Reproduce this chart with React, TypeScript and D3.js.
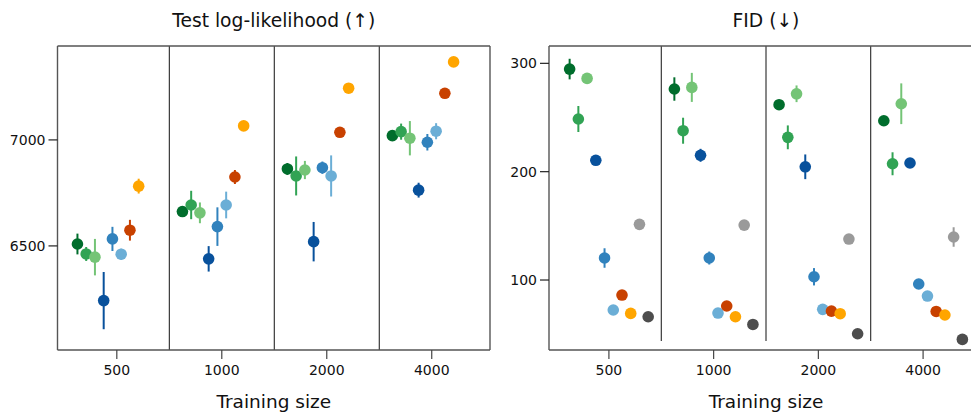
import React from "react";
import * as d3 from "d3";

const trainingSizes = ["500", "1000", "2000", "4000"];
const seriesColors = [
  "#006d2c", "#31a354", "#74c476",
  "#08519c", "#3182bd", "#6baed6",
  "#c84100", "#ffa500", "#9a9a9a", "#4d4d4d",
];

// Test log-likelihood (8 series) — mean and error per training size
const llMean = [
  [6509, 6662, 6863, 7020],
  [6462, 6693, 6830, 7039],
  [6447, 6656, 6858, 7008],
  [6242, 6439, 6520, 6763],
  [6533, 6591, 6869, 6989],
  [6461, 6693, 6830, 7041],
  [6574, 6825, 7036, 7220],
  [6782, 7066, 7244, 7368],
];
const llErr = [
  [49, 24, 28, 18],
  [33, 67, 92, 38],
  [86, 49, 43, 81],
  [135, 60, 93, 35],
  [57, 91, 29, 39],
  [26, 63, 97, 38],
  [49, 33, 15, 12],
  [35, 12, 12, 12],
];

// FID (10 series)
const fidMean = [
  [294.7, 276.3, 261.8, 247.0],
  [248.6, 237.8, 231.7, 207.3],
  [286.1, 277.8, 271.9, 262.7],
  [210.5, 215.1, 204.5, 208.0],
  [120.3, 120.3, 103.0, 96.3],
  [72.3, 69.5, 72.9, 85.2],
  [86.1, 76.0, 71.3, 71.0],
  [69.2, 66.1, 68.9, 67.7],
  [151.4, 150.7, 137.8, 139.7],
  [66.1, 59.0, 50.4, 45.2],
];
const fidErr = [
  [9.5, 10.8, 4.5, 3],
  [12, 12, 11, 10.6],
  [5, 13.4, 7.7, 18.8],
  [3, 6, 11.4, 4],
  [9, 6, 8, 3],
  [2, 2, 2, 2],
  [2, 2, 2, 2],
  [2, 2, 2, 2],
  [2, 2, 2, 9],
  [2, 2, 2, 2],
];

const llTicks = [6500, 7000];
const fidTicks = [100, 200, 300];

const FONT = "DejaVu Sans";

type PanelProps = {
  title: string;
  x0: number;
  x1: number;
  xDomain: [number, number];
  yDomain: [number, number];
  ticks: number[];
  means: number[][];
  errs: number[][];
  rightBorder: boolean;
  dividerBottom: number | null;
};

const TOP = 46;
const BOTTOM = 350;

function Panel(p: PanelProps) {
  const x = d3.scaleLinear().domain(p.xDomain).range([p.x0, p.x1]);
  const y = d3.scaleLinear().domain(p.yDomain).range([BOTTOM, TOP]);
  const nTotal = 10;
  const step = 1 / 12;
  const frame = "#555";
  const divBottom = p.dividerBottom === null ? BOTTOM : y(p.dividerBottom);
  const cx = (p.x0 + x(p.xDomain[1])) / 2;
  return (
    <g>
      <text x={cx} y={27} textAnchor="middle" fontFamily={FONT} fontSize={18.7} fill="#111">
        {p.title}
      </text>
      {/* dividers */}
      {[0.5, 1.5, 2.5].map((d) => (
        <line key={d} x1={x(d)} x2={x(d)} y1={TOP} y2={divBottom} stroke="#111" strokeWidth={1} />
      ))}
      {/* data */}
      {p.means.map((row, s) =>
        row.map((m, g) => {
          const px = x(g + (s - (nTotal - 1) / 2) * step);
          const e = p.errs[s][g];
          return (
            <g key={`${s}-${g}`}>
              <line x1={px} x2={px} y1={y(m - e)} y2={y(m + e)} stroke={seriesColors[s]} strokeWidth={2} />
              <circle cx={px} cy={y(m)} r={5.8} fill={seriesColors[s]} />
            </g>
          );
        })
      )}
      {/* frame */}
      <line x1={p.x0} x2={p.x0} y1={TOP} y2={BOTTOM} stroke={frame} strokeWidth={1.4} />
      <line x1={p.x0} x2={p.x1} y1={TOP} y2={TOP} stroke={frame} strokeWidth={1.4} />
      <line x1={p.x0} x2={p.x1} y1={BOTTOM} y2={BOTTOM} stroke={frame} strokeWidth={1.4} />
      {p.rightBorder && (
        <line x1={p.x1} x2={p.x1} y1={TOP} y2={BOTTOM} stroke={frame} strokeWidth={1.4} />
      )}
      {/* y ticks */}
      {p.ticks.map((t) => (
        <g key={t}>
          <line x1={p.x0 - 9} x2={p.x0} y1={y(t)} y2={y(t)} stroke="#222" strokeWidth={1.2} />
          <text x={p.x0 - 12} y={y(t)} dy="0.35em" textAnchor="end" fontFamily={FONT} fontSize={14} fill="#111">
            {t}
          </text>
        </g>
      ))}
      {/* x ticks */}
      {trainingSizes.map((lab, i) => (
        <g key={lab}>
          <line x1={x(i)} x2={x(i)} y1={BOTTOM} y2={BOTTOM + 9} stroke="#444" strokeWidth={1.2} />
          <text x={x(i)} y={374.5} textAnchor="middle" fontFamily={FONT} fontSize={14} fill="#111">
            {lab}
          </text>
        </g>
      ))}
      <text x={cx} y={408} textAnchor="middle" fontFamily={FONT} fontSize={18.5} fill="#111">
        Training size
      </text>
    </g>
  );
}

export default function App() {
  return (
    <svg width={971} height={414} style={{ position: "absolute", left: 0, top: 0, background: "#fff" }}>
      <Panel
        title="Test log-likelihood (↑)"
        x0={57.5}
        x1={490}
        xDomain={[-0.565, 3.555]}
        yDomain={[6009, 7443]}
        ticks={llTicks}
        means={llMean}
        errs={llErr}
        rightBorder={true}
        dividerBottom={null}
      />
      <Panel
        title="FID (↓)"
        x0={549}
        x1={983}
        xDomain={[-0.572, 3.572]}
        yDomain={[35.4, 316]}
        ticks={fidTicks}
        means={fidMean}
        errs={fidErr}
        rightBorder={false}
        dividerBottom={43.7}
      />
    </svg>
  );
}
